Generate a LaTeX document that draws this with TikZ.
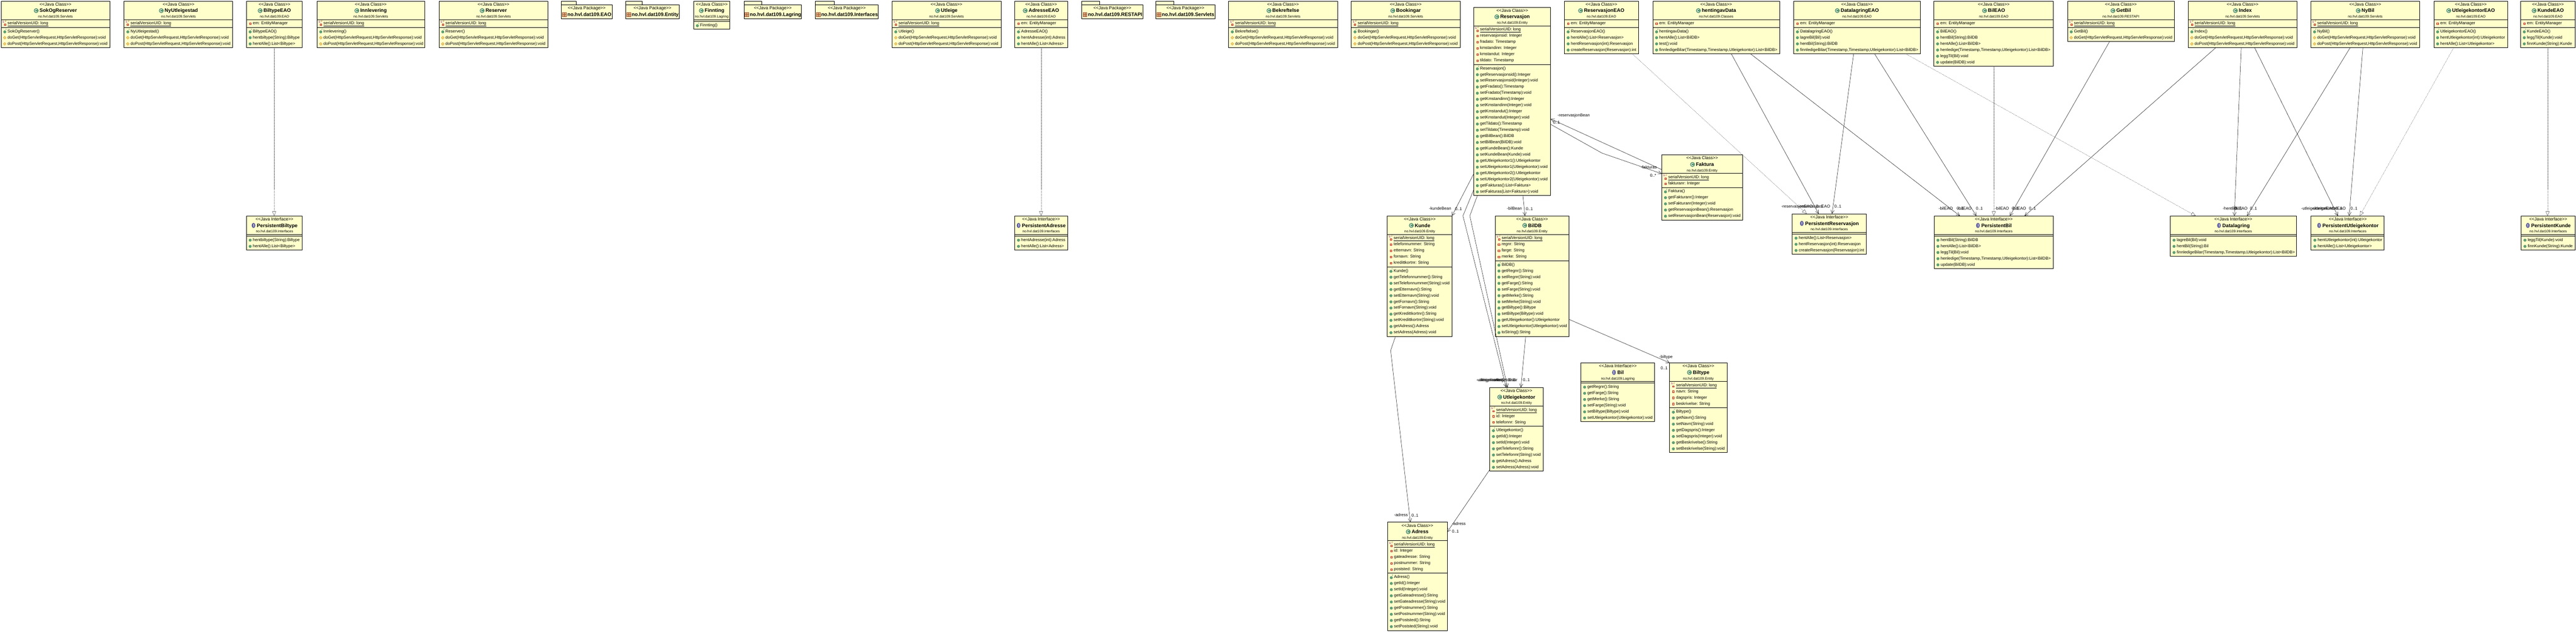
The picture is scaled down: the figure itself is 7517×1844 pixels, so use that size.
\documentclass[tikz,border=0pt]{standalone}
\usepackage{fontspec}
\newfontfamily\lsans{Liberation Sans}
\usetikzlibrary{arrows.meta}
\definecolor{cream}{HTML}{FFFFCC}
\definecolor{igreen}{HTML}{5FA57A}
\definecolor{igreend}{HTML}{3F8058}
\definecolor{ipurple}{HTML}{5F5FA8}
\definecolor{iyellow}{HTML}{F0D070}
\definecolor{iorange}{HTML}{D0A040}
\definecolor{ired}{HTML}{C02828}
\definecolor{ibrown}{HTML}{D9A877}
\definecolor{ibrownd}{HTML}{A05A3C}
\tikzset{
  umlnode/.style={draw=black,fill=cream,line width=1.2pt,rectangle,anchor=north west,inner sep=0pt,outer sep=0pt},
  divider/.style={draw=black,line width=1pt},
  rowtext/.style={anchor=base west,inner sep=0pt,outer sep=0pt,font=\lsans\fontsize{12}{14}\selectfont},
  sttext/.style={anchor=base,inner sep=0pt,outer sep=0pt,font=\lsans\fontsize{12.8}{14}\selectfont},
  titletext/.style={anchor=base,inner sep=0pt,outer sep=0pt,font=\lsans\bfseries\fontsize{14.5}{16}\selectfont},
  pkgtext/.style={anchor=base,inner sep=0pt,outer sep=0pt,font=\lsans\fontsize{10.2}{12}\selectfont},
  tinytext/.style={anchor=center,inner sep=0pt,outer sep=0pt,font=\lsans\fontsize{7.5}{8}\selectfont},
  conlabel/.style={anchor=base west,inner sep=0pt,outer sep=0pt,font=\lsans\fontsize{12}{14}\selectfont},
  assoc/.style={draw=black,line width=.7pt,-{Straight Barb[length=10pt,width=10pt,line width=.7pt]}},
  realize/.style={draw=black!80,line width=.5pt,dash pattern=on 2.5pt off 2pt,-{Triangle[open,length=13pt,width=11pt,line width=.6pt,fill=white]}},
}
\newcount\rowno
\newcommand\urow[2]{%
  \global\advance\rowno by 1
  \edef\ix{\the\numexpr\rx+11\relax}\edef\iy{\the\numexpr\ry+1\relax}%
  \node[rowtext] (\bid-r\the\rowno) at (\the\numexpr\rx+19\relax,\the\numexpr\ry+4\relax) {#2};
  #1
  \edef\ry{\the\numexpr\ry+18\relax}%
}
\newcommand\icM{\path[draw=igreend,fill=igreen,line width=.6pt] (\ix,\iy) circle[radius=3.8pt];}
\newcommand\icP{\path[draw=iorange,fill=iyellow,line width=.6pt] (\ix-4.5,\iy) -- (\ix,\iy-4.5) -- (\ix+4.5,\iy) -- (\ix,\iy+4.5) -- cycle;}
\newcommand\icF{\path[draw=ired,fill=cream!70!orange,line width=1pt] (\ix-2.5,\iy-2.5) rectangle (\ix+2.5,\iy+2.5);}
\newcommand\icS{\path[draw=ired,fill=cream!70!orange,line width=.9pt] (\ix-2,\iy+1) rectangle (\ix+2.5,\iy+5);
  \node[tinytext,text=violet] (\bid-r\the\rowno-s) at (\ix-4,\iy-5) {S};
  \node[tinytext,text=brown!80!black] (\bid-r\the\rowno-f) at (\ix+3,\iy-6) {F};}
\newcommand\icK{\path[draw=igreend,fill=igreen,line width=.6pt] (\ix,\iy+1) circle[radius=3.8pt];
  \node[tinytext,text=igreend] (\bid-r\the\rowno-c) at (\ix+4,\iy-6) {c};}
\newcommand\rS[1]{\urow{\icS}{\underline{#1}}}
\newcommand\rF[1]{\urow{\icF}{#1}}
\newcommand\rK[1]{\urow{\icK}{#1}}
\newcommand\rM[1]{\urow{\icM}{#1}}
\newcommand\rP[1]{\urow{\icP}{#1}}
\newcommand\methods{\edef\ry{\the\numexpr\dbb+11\relax}}
% id x1 y1 x2 nf nm kind title pkg
\newcommand\umlbox[9]{%
  \rowno=0
  \edef\bid{#1}\edef\rx{#2}%
  \edef\dba{\the\numexpr#3+54\relax}%
  \edef\dbb{\the\numexpr#3+59+18*#5\relax}%
  \edef\ry{\the\numexpr\dba+11\relax}%
  \edef\cxx{\the\numexpr(#2+#4)/2\relax}%
  \node[umlnode,minimum width=\the\numexpr#4-#2\relax pt,minimum height=\the\numexpr64+18*(#5+#6)\relax pt] (#1) at (#2,#3) {};
  \draw[divider] (#2,\dba) -- (#4,\dba);
  \draw[divider] (#2,\dbb) -- (#4,\dbb);
  \node[sttext] (#1-st) at (\cxx,#3+14) {\ifx#7C<{}<Java Class>{}>\else<{}<Java Interface>{}>\fi};
  \node[titletext] (#1-t) at (\cxx+8,#3+33) {#8};
  \node[pkgtext] (#1-p) at (\cxx,#3+49) {#9};
  \coordinate (#1-ic) at ([xshift=-10pt,yshift=5pt]#1-t.base west);
  \ifx#7C%
    \path[draw=igreend,fill=igreen!90!black,line width=.6pt] (#1-ic) circle[radius=6.5pt];
    \draw[white,y=1pt,line width=1.3pt] ([xshift=2.6pt,yshift=2.6pt]#1-ic) arc[start angle=45,end angle=315,radius=3.7pt];
  \else
    \path[draw=ipurple!70!black,fill=ipurple] (#1-ic) ellipse[x radius=5pt,y radius=7pt];
    \draw[white,line width=1.4pt] ([yshift=4pt]#1-ic) -- ([yshift=-4pt]#1-ic);
  \fi
}
% id x1 x2 tabx name
\newcommand\pkgbox[5]{%
  \edef\cxx{\the\numexpr(#2+#3)/2\relax}%
  \node[umlnode,minimum width=\the\numexpr#4-#2\relax pt,minimum height=11pt] (#1-tab) at (#2,3) {};
  \node[umlnode,minimum width=\the\numexpr#3-#2\relax pt,minimum height=40pt] (#1) at (#2,14) {};
  \node[sttext] (#1-st) at (\cxx,28) {<{}<Java Package>{}>};
  \node[titletext] (#1-t) at (\cxx+8,48) {#5};
  \coordinate (#1-ic) at ([xshift=-9pt,yshift=5pt]#1-t.base west);
  \path[draw=ibrownd,fill=ibrown,line width=.8pt] ([xshift=-6pt,yshift=-6pt]#1-ic) rectangle ([xshift=6pt,yshift=6pt]#1-ic);
  \draw[ibrownd,line width=.8pt] ([xshift=-6pt]#1-ic) -- ([xshift=6pt]#1-ic) ([yshift=-6pt]#1-ic) -- ([yshift=6pt]#1-ic);
}
\newcommand\lab[4]{\node[conlabel] (#1) at (#2,#3) {#4};}
\newcommand\servlet[5]{%
  \umlbox{#1}{#2}{3}{#3}{1}{3}{C}{#4}{no.hvl.dat109.Servlets}
  \rS{serialVersionUID: long}
  \methods
  \rK{#4()}
  \rP{doGet(HttpServletRequest,HttpServletResponse):void}
  \rP{doPost(HttpServletRequest,HttpServletResponse):void}
}
\begin{document}
\begin{tikzpicture}[x=1pt,y=-1pt]
\useasboundingbox (0,0) rectangle (7517,1844);
\fill[white] (0,0) rectangle (7517,1844);
% top row
\servlet{sok}{3}{321}{SokOgReserver}{}
\servlet{nyut}{362}{679}{NyUtleigestad}{}
\umlbox{btao}{719}{3}{882}{1}{3}{C}{BiltypeEAO}{no.hvl.dat109.EAO}
  \rF{em: EntityManager}\methods
  \rK{BiltypeEAO()}\rM{hentbiltype(String):Biltype}\rM{hentAlle():List<Biltype>}
\servlet{innl}{925}{1239}{Innlevering}{}
\servlet{rsrv}{1281}{1598}{Reserver}{}
\pkgbox{pkeao}{1638}{1786}{1682}{no.hvl.dat109.EAO}
\pkgbox{pkent}{1826}{1982}{1874}{no.hvl.dat109.Entity}
\umlbox{finn}{2024}{3}{2129}{0}{1}{C}{Finnting}{no.hvl.dat109.Lagring}
  \methods\rK{Finnting()}
\pkgbox{pklag}{2171}{2339}{2222}{no.hvl.dat109.Lagring}
\pkgbox{pkint}{2379}{2562}{2435}{no.hvl.dat109.Interfaces}
\servlet{utlg}{2603}{2921}{Utleige}{}
\umlbox{adao}{2961}{3}{3115}{1}{3}{C}{AdresseEAO}{no.hvl.dat109.EAO}
  \rF{em: EntityManager}\methods
  \rK{AdresseEAO()}\rM{hentAdresse(int):Adress}\rM{hentAlle():List<Adress>}
\pkgbox{pkres}{3156}{3335}{3209}{no.hvl.dat109.RESTAPI}
\pkgbox{pkser}{3373}{3545}{3425}{no.hvl.dat109.Servlets}
\servlet{bekr}{3585}{3903}{Bekreftelse}{}
\servlet{book}{3943}{4261}{Bookingar}{}
\umlbox{resv}{4300}{21}{4525}{6}{21}{C}{Reservasjon}{no.hvl.dat109.Entity}
  \rS{serialVersionUID: long}\rF{reservasjonsid: Integer}\rF{fradato: Timestamp}\rF{kmstandinn: Integer}\rF{kmstandut: Integer}\rF{tildato: Timestamp}\methods
  \rK{Reservasjon()}
  \rM{getReservasjonsid():Integer}\rM{setReservasjonsid(Integer):void}
  \rM{getFradato():Timestamp}\rM{setFradato(Timestamp):void}
  \rM{getKmstandinn():Integer}\rM{setKmstandinn(Integer):void}
  \rM{getKmstandut():Integer}\rM{setKmstandut(Integer):void}
  \rM{getTildato():Timestamp}\rM{setTildato(Timestamp):void}
  \rM{getBilBean():BilDB}\rM{setBilBean(BilDB):void}
  \rM{getKundeBean():Kunde}\rM{setKundeBean(Kunde):void}
  \rM{getUtleigekontor1():Utleigekontor}\rM{setUtleigekontor1(Utleigekontor):void}
  \rM{getUtleigekontor2():Utleigekontor}\rM{setUtleigekontor2(Utleigekontor):void}
  \rM{getFakturas():List<Faktura>}\rM{setFakturas(List<Faktura>):void}
\umlbox{rsao}{4565}{3}{4781}{1}{4}{C}{ReservasjonEAO}{no.hvl.dat109.EAO}
  \rF{em: EntityManager}\methods
  \rK{ReservasjonEAO()}\rM{hentAlle():List<Reservasjon>}\rM{hentReservasjon(int):Reservasjon}\rM{createReservasjon(Reservasjon):int}
\umlbox{hent}{4823}{3}{5193}{1}{4}{C}{hentingavData}{no.hvl.dat109.Classes}
  \rF{em: EntityManager}\methods
  \rK{hentingavData()}\rM{hentAlle():List<BilDB>}\rM{test():void}\rM{finnledigeBilar(Timestamp,Timestamp,Utleigekontor):List<BilDB>}
\umlbox{dtao}{5234}{3}{5604}{1}{4}{C}{DatalagringEAO}{no.hvl.dat109.EAO}
  \rF{em: EntityManager}\methods
  \rK{DatalagringEAO()}\rM{lagreBil(Bil):void}\rM{hentBil(String):BilDB}\rM{finnledigeBilar(Timestamp,Timestamp,Utleigekontor):List<BilDB>}
\umlbox{blao}{5643}{3}{5992}{1}{6}{C}{BilEAO}{no.hvl.dat109.EAO}
  \rF{em: EntityManager}\methods
  \rK{BilEAO()}\rM{hentBil(String):BilDB}\rM{hentAlle():List<BilDB>}\rM{henledige(Timestamp,Timestamp,Utleigekontor):List<BilDB>}\rM{leggTil(Bil):void}\rM{update(BilDB):void}
\umlbox{gtbl}{6033}{3}{6345}{1}{2}{C}{GetBil}{no.hvl.dat109.RESTAPI}
  \rS{serialVersionUID: long}\methods
  \rK{GetBil()}\rP{doGet(HttpServletRequest,HttpServletResponse):void}
\servlet{indx}{6385}{6702}{Index}{}
\servlet{nybl}{6743}{7060}{NyBil}{}
\umlbox{ukao}{7102}{3}{7317}{1}{3}{C}{UtleigekontorEAO}{no.hvl.dat109.EAO}
  \rF{em: EntityManager}\methods
  \rK{UtleigekontorEAO()}\rM{hentUtleigekontor(int):Utleigekontor}\rM{hentAlle():List<Utleigekontor>}
\umlbox{kuao}{7355}{3}{7515}{1}{3}{C}{KundeEAO}{no.hvl.dat109.EAO}
  \rF{em: EntityManager}\methods
  \rK{KundeEAO()}\rM{leggTil(Kunde):void}\rM{finnKunde(String):Kunde}
% interfaces
\umlbox{pbt}{719}{630}{882}{0}{2}{I}{PersistentBiltype}{no.hvl.dat109.Interfaces}
  \methods\rM{hentbiltype(String):Biltype}\rM{hentAlle():List<Biltype>}
\umlbox{pad}{2961}{630}{3115}{0}{2}{I}{PersistentAdresse}{no.hvl.dat109.Interfaces}
  \methods\rM{hentAdresse(int):Adress}\rM{hentAlle():List<Adress>}
\umlbox{pres}{5230}{624}{5446}{0}{3}{I}{PersistentReservasjon}{no.hvl.dat109.Interfaces}
  \methods\rM{hentAlle():List<Reservasjon>}\rM{hentReservasjon(int):Reservasjon}\rM{createReservasjon(Reservasjon):int}
\umlbox{pbil}{5644}{630}{5991}{0}{5}{I}{PersistentBil}{no.hvl.dat109.Interfaces}
  \methods\rM{hentBil(String):BilDB}\rM{hentAlle():List<BilDB>}\rM{leggTil(Bil):void}\rM{henledige(Timestamp,Timestamp,Utleigekontor):List<BilDB>}\rM{update(BilDB):void}
\umlbox{datl}{6333}{630}{6701}{0}{3}{I}{Datalagring}{no.hvl.dat109.Interfaces}
  \methods\rM{lagreBil(Bil):void}\rM{hentBil(String):Bil}\rM{finnledigeBilar(Timestamp,Timestamp,Utleigekontor):List<BilDB>}
\umlbox{putl}{6744}{630}{6957}{0}{2}{I}{PersistentUtleigekontor}{no.hvl.dat109.Interfaces}
  \methods\rM{hentUtleigekontor(int):Utleigekontor}\rM{hentAlle():List<Utleigekontor>}
\umlbox{pkun}{7357}{630}{7514}{0}{2}{I}{PersistentKunde}{no.hvl.dat109.Interfaces}
  \methods\rM{leggTil(Kunde):void}\rM{finnKunde(String):Kunde}
% entities
\umlbox{kund}{4048}{630}{4237}{5}{11}{C}{Kunde}{no.hvl.dat109.Entity}
  \rS{serialVersionUID: long}\rF{telefonnummer: String}\rF{etternavn: String}\rF{fornavn: String}\rF{kredittkortnr: String}\methods
  \rK{Kunde()}\rM{getTelefonnummer():String}\rM{setTelefonnummer(String):void}\rM{getEtternavn():String}\rM{setEtternavn(String):void}\rM{getFornavn():String}\rM{setFornavn(String):void}\rM{getKredittkortnr():String}\rM{setKredittkortnr(String):void}\rM{getAdress():Adress}\rM{setAdress(Adress):void}
\umlbox{bldb}{4363}{630}{4578}{4}{12}{C}{BilDB}{no.hvl.dat109.Entity}
  \rS{serialVersionUID: long}\rF{regnr: String}\rF{farge: String}\rF{merke: String}\methods
  \rK{BilDB()}\rM{getRegnr():String}\rM{setRegnr(String):void}\rM{getFarge():String}\rM{setFarge(String):void}\rM{getMerke():String}\rM{setMerke(String):void}\rM{getBiltype():Biltype}\rM{setBiltype(Biltype):void}\rM{getUtleigekontor():Utleigekontor}\rM{setUtleigekontor(Utleigekontor):void}\rM{toString():String}
\umlbox{fakt}{4849}{452}{5085}{2}{5}{C}{Faktura}{no.hvl.dat109.Entity}
  \rS{serialVersionUID: long}\rF{fakturanr: Integer}\methods
  \rK{Faktura()}\rM{getFakturanr():Integer}\rM{setFakturanr(Integer):void}\rM{getReservasjonBean():Reservasjon}\rM{setReservasjonBean(Reservasjon):void}
\umlbox{ukon}{4347}{1131}{4503}{3}{7}{C}{Utleigekontor}{no.hvl.dat109.Entity}
  \rS{serialVersionUID: long}\rF{id: Integer}\rF{telefonnr: String}\methods
  \rK{Utleigekontor()}\rM{getId():Integer}\rM{setId(Integer):void}\rM{getTelefonnr():String}\rM{setTelefonnr(String):void}\rM{getAdress():Adress}\rM{setAdress(Adress):void}
\umlbox{adrs}{4049}{1524}{4223}{5}{9}{C}{Adress}{no.hvl.dat109.Entity}
  \rS{serialVersionUID: long}\rF{id: Integer}\rF{gateadresse: String}\rF{postnummer: String}\rF{poststed: String}\methods
  \rK{Adress()}\rM{getId():Integer}\rM{setId(Integer):void}\rM{getGateadresse():String}\rM{setGateadresse(String):void}\rM{getPostnummer():String}\rM{setPostnummer(String):void}\rM{getPoststed():String}\rM{setPoststed(String):void}
\umlbox{bilf}{4613}{1059}{4828}{0}{6}{I}{Bil}{no.hvl.dat109.Lagring}
  \methods\rM{getRegnr():String}\rM{getFarge():String}\rM{getMerke():String}\rM{setFarge(String):void}\rM{setBiltype(Biltype):void}\rM{setUtleigekontor(Utleigekontor):void}
\umlbox{bltp}{4872}{1059}{5040}{4}{7}{C}{Biltype}{no.hvl.dat109.Entity}
  \rS{serialVersionUID: long}\rF{navn: String}\rF{dagspris: Integer}\rF{beskrivelse: String}\methods
  \rK{Biltype()}\rM{getNavn():String}\rM{setNavn(String):void}\rM{getDagspris():Integer}\rM{setDagspris(Integer):void}\rM{getBeskrivelse():String}\rM{setBeskrivelse(String):void}
% connectors
\draw[assoc] ([yshift=-487pt]resv.north west) -- (kund.north east);
\draw[assoc] ([yshift=-534pt]resv.north west) -- (4269,630) -- ([xshift=48pt]ukon.north west);
\draw[assoc] ([xshift=11pt]resv.south west) -- (4289,630) -- ([xshift=52pt]ukon.north west);
\draw[assoc] ([xshift=144pt]resv.south west) -- ([xshift=87pt]bldb.north west);
\draw[assoc] ([yshift=-342pt]resv.north east) -- (4675,447) -- ([yshift=-55pt]fakt.north west);
\draw[assoc] ([yshift=-43pt]fakt.north west) -- ([yshift=-326pt]resv.north east);
\draw[assoc] ([xshift=89pt]bldb.south west) -- ([xshift=91pt]ukon.north west);
\draw[assoc] ([yshift=50pt]bldb.south east) -- (bltp.north west);
\draw[assoc] ([xshift=24pt]kund.south west) -- (4058,1023) -- ([xshift=66.5pt]adrs.north west);
\draw[assoc] ([yshift=4pt]ukon.south west) -- ([yshift=-29pt]adrs.north east);
\draw[realize] ([xshift=81pt]btao.south west) -- ([xshift=81pt]pbt.north west);
\draw[realize] ([xshift=77pt]adao.south west) -- ([xshift=77pt]pad.north west);
\draw[realize] ([xshift=198pt]rsao.south west) -- ([xshift=42pt]pres.north west);
\draw[assoc] ([xshift=229pt]hent.south west) -- ([xshift=77pt]pres.north west);
\draw[assoc] ([xshift=175pt]dtao.south west) -- ([xshift=116pt]pres.north west);
\draw[assoc] ([xshift=285pt]hent.south west) -- ([xshift=75pt]pbil.north west);
\draw[assoc] ([xshift=236pt]dtao.south west) -- ([xshift=123pt]pbil.north west);
\draw[realize] ([xshift=175pt]blao.south west) -- ([xshift=174pt]pbil.north west);
\draw[assoc] ([xshift=123pt]gtbl.south west) -- ([xshift=221pt]pbil.north west);
\draw[assoc] ([xshift=81pt]indx.south west) -- ([xshift=264pt]pbil.north west);
\draw[realize] ([xshift=327pt]dtao.south west) -- ([xshift=74pt]datl.north west);
\draw[assoc] ([xshift=155pt]indx.south west) -- ([xshift=187pt]datl.north west);
\draw[assoc] ([xshift=115pt]nybl.south west) -- ([xshift=224pt]datl.north west);
\draw[assoc] ([xshift=194pt]indx.south west) -- ([xshift=78pt]putl.north west);
\draw[assoc] ([xshift=152pt]nybl.south west) -- ([xshift=111pt]putl.north west);
\draw[realize] ([xshift=58pt]ukao.south west) -- ([xshift=142pt]putl.north west);
\draw[realize] ([xshift=79pt]kuao.south west) -- ([xshift=77pt]pkun.north west);
% labels
\lab{l1}{4170}{613}{-kundeBean}\lab{l2}{4246}{614}{0..1}
\lab{l3}{4397}{613}{-bilBean}\lab{l4}{4453}{614}{0..1}
\lab{l5}{4308}{1113}{-utleigekontor1}\lab{l6}{4400}{1113}{0..1}
\lab{l7}{4312}{1113}{-utleigekontor2}\lab{l8}{4404}{1113}{0..1}
\lab{l9}{4355}{1113}{-utleigekontor}\lab{l10}{4444}{1113}{0..1}
\lab{l11}{4788}{493}{-fakturas}\lab{l12}{4815}{517}{0..*}
\lab{l13}{4545}{341}{-reservasjonBean}\lab{l14}{4532}{362}{0..1}
\lab{l15}{4842}{1045}{-biltype}\lab{l16}{4846}{1078}{0..1}
\lab{l17}{4068}{1507}{-adress}\lab{l18}{4119}{1508}{0..1}
\lab{l19}{4237}{1532}{-adress}\lab{l20}{4237}{1556}{0..1}
\lab{l21}{5198}{607}{-reservasjonEAO}\lab{l22}{5300}{607}{0..1}
\lab{l23}{5249}{607}{-reservasjonEAO}\lab{l24}{5353}{607}{0..1}
\lab{l25}{5657}{613}{-bilEAO}\lab{l26}{5710}{613}{0..1}
\lab{l27}{5712}{613}{-bilEAO}\lab{l28}{5766}{613}{0..1}
\lab{l29}{5821}{613}{-bilEAO}\lab{l30}{5871}{613}{0..1}
\lab{l31}{5871}{613}{-bilEAO}\lab{l32}{5921}{613}{0..1}
\lab{l33}{6486}{613}{-hentBil}\lab{l34}{6522}{613}{0..1}
\lab{l35}{6517}{613}{-bilEAO}\lab{l36}{6566}{613}{0..1}
\lab{l37}{6715}{613}{-utleigekontorEAO}\lab{l38}{6815}{613}{0..1}
\lab{l39}{6747}{613}{-utleigekontorEAO}\lab{l40}{6859}{613}{0..1}
\end{tikzpicture}
\end{document}
